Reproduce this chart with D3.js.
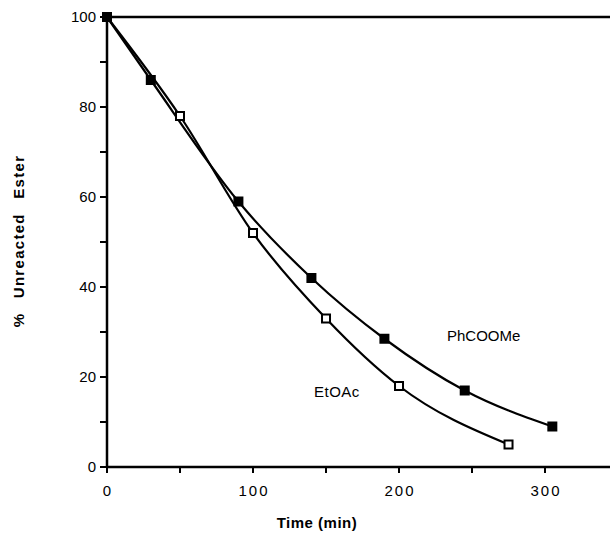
<!DOCTYPE html>
<html>
<head>
<meta charset="utf-8">
<script src="https://cdn.jsdelivr.net/npm/d3@7"></script>
<style>
  body { margin: 0; background: #fff; }
  text { font-family: "Liberation Sans", Arial, sans-serif; fill: #000; }
</style>
</head>
<body>
<div id="chart"></div>
<script>
// data
var seriesNames = ["PhCOOMe", "EtOAc"];
var phTime = [0, 30, 90, 140, 190, 245, 305];
var phValue = [100, 86, 59, 42, 28.5, 17, 9];
var etTime = [0, 50, 100, 150, 200, 275];
var etValue = [100, 78, 52, 33, 18, 5];
var xTicks = [0, 100, 200, 300];
var xMinor = [50, 150, 250];
var yTicks = [0, 20, 40, 60, 80, 100];
var yMinor = [10, 30, 50, 70, 90];

var W = 610, H = 534;
var svg = d3.select("#chart").append("svg")
  .attr("width", W).attr("height", H);

var x = d3.scaleLinear().domain([0, 344.5]).range([107, 610]);
var y = d3.scaleLinear().domain([0, 100]).range([467, 17]);

// x axis
var xAxis = svg.append("g").attr("transform", "translate(0," + y(0) + ")");
xAxis.append("line").attr("x1", x(0)).attr("x2", W).attr("stroke", "#000").attr("stroke-width", 2.5);
xAxis.selectAll(".tk").data(xTicks.concat(xMinor)).enter().append("line")
  .attr("x1", function(d) { return x(d); }).attr("x2", function(d) { return x(d); })
  .attr("y1", 0).attr("y2", 6).attr("stroke", "#000").attr("stroke-width", 2);
xAxis.selectAll(".lb").data(xTicks).enter().append("text")
  .attr("x", function(d) { return x(d) + 1; }).attr("y", 29)
  .attr("text-anchor", "middle").style("font-size", "15px").style("letter-spacing", "2px")
  .text(function(d) { return d; });

// y axis
var yAxis = svg.append("g").attr("transform", "translate(" + x(0) + ",0)");
yAxis.append("line").attr("y1", y(0) + 1).attr("y2", y(100)).attr("stroke", "#000").attr("stroke-width", 2.5);
yAxis.selectAll(".tk").data(yTicks.concat(yMinor)).enter().append("line")
  .attr("y1", function(d) { return y(d); }).attr("y2", function(d) { return y(d); })
  .attr("x1", -7).attr("x2", 0).attr("stroke", "#000").attr("stroke-width", 2);
yAxis.selectAll(".lb").data(yTicks).enter().append("text")
  .attr("x", -11).attr("y", function(d) { return y(d); }).attr("dy", "0.35em")
  .attr("text-anchor", "end").style("font-size", "15px")
  .text(function(d) { return d; });

// top line at 100
svg.append("line").attr("x1", x(0)).attr("x2", W).attr("y1", y(100)).attr("y2", y(100))
  .attr("stroke", "#000").attr("stroke-width", 2.5);

// axis titles
svg.append("text").attr("x", 317).attr("y", 528).attr("text-anchor", "middle")
  .style("font-size", "15px").style("font-weight", "bold").style("letter-spacing", "0.5px")
  .text("Time (min)");
svg.append("text").attr("transform", "translate(24,241) rotate(-90)").attr("text-anchor", "middle")
  .style("font-size", "15px").style("font-weight", "bold")
  .style("letter-spacing", "1.3px").style("word-spacing", "9px")
  .text("% Unreacted Ester");

var line = d3.line()
  .x(function(d) { return x(d[0]); })
  .y(function(d) { return y(d[1]); })
  .curve(d3.curveMonotoneX);

var ph = d3.zip(phTime, phValue);
var et = d3.zip(etTime, etValue);

svg.append("path").datum(ph).attr("d", line).attr("fill", "none").attr("stroke", "#000").attr("stroke-width", 2.2);
svg.append("path").datum(et).attr("d", line).attr("fill", "none").attr("stroke", "#000").attr("stroke-width", 2.2);

// open squares for EtOAc
svg.selectAll(".et").data(et.slice(1)).enter().append("rect")
  .attr("x", function(d) { return x(d[0]) - 4; }).attr("y", function(d) { return y(d[1]) - 4; })
  .attr("width", 8).attr("height", 8)
  .attr("fill", "#fff").attr("stroke", "#000").attr("stroke-width", 2);

// filled squares for PhCOOMe
svg.selectAll(".ph").data(ph).enter().append("rect")
  .attr("x", function(d) { return x(d[0]) - 5; }).attr("y", function(d) { return y(d[1]) - 5; })
  .attr("width", 10).attr("height", 10).attr("fill", "#000");

// series labels
svg.append("text").attr("x", 447).attr("y", 341).style("font-size", "15px").text(seriesNames[0]);
svg.append("text").attr("x", 314).attr("y", 397).style("font-size", "15px").style("letter-spacing", "0.5px").text(seriesNames[1]);
</script>
</body>
</html>
